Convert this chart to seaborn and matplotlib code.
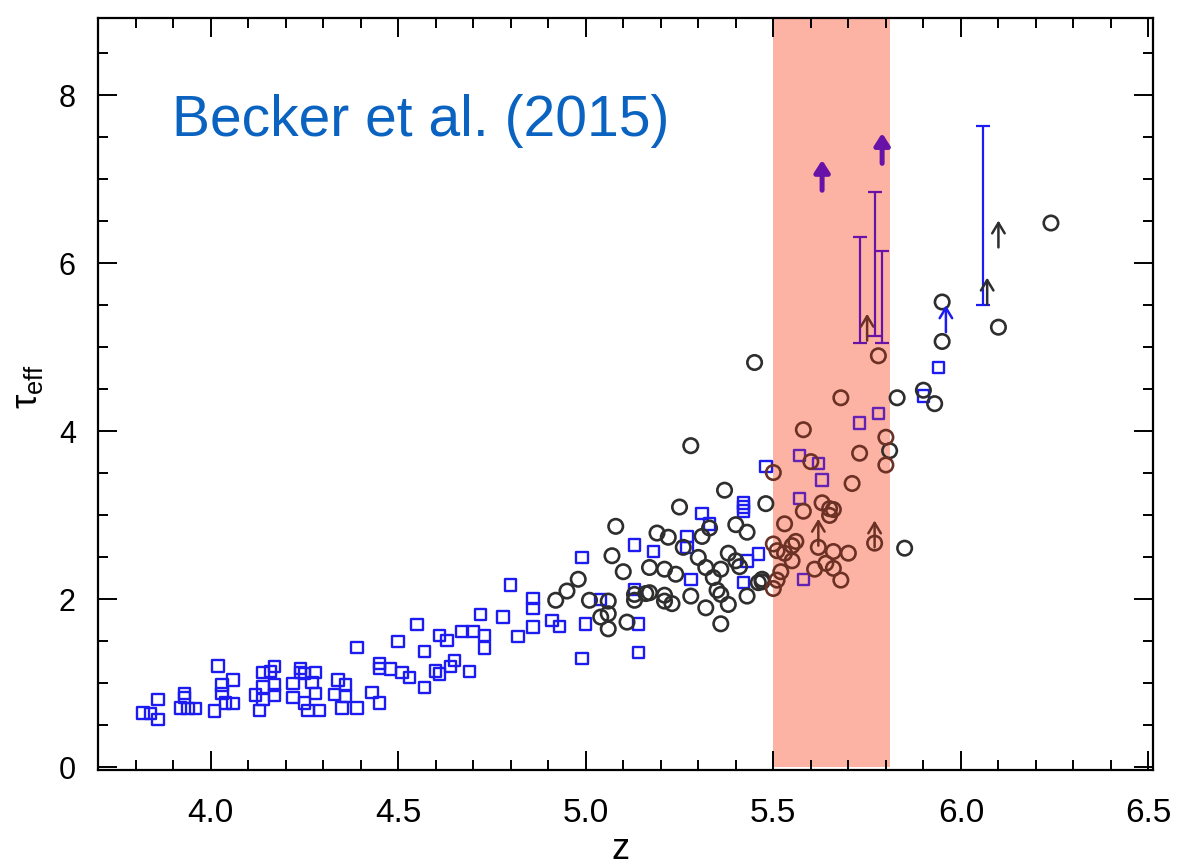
import numpy as np
import pandas as pd
import matplotlib
matplotlib.use("Agg")
import matplotlib.pyplot as plt
from matplotlib import font_manager
from matplotlib.ticker import MultipleLocator, FormatStrFormatter
import seaborn as sns

# ---- measurements: quasar sightlines (blue squares) ----
sq_z = [3.82, 3.84, 3.86, 3.86, 3.92, 3.93, 3.93, 3.94, 3.96, 4.01, 4.02, 4.03,
        4.03, 4.04, 4.06, 4.06, 4.12, 4.13, 4.14, 4.14, 4.14, 4.16, 4.17, 4.17,
        4.17, 4.22, 4.22, 4.24, 4.24, 4.25, 4.28, 4.27, 4.28, 4.25, 4.26, 4.29,
        4.34, 4.36, 4.33, 4.36, 4.35, 4.39, 4.39, 4.43, 4.45, 4.45, 4.45, 4.48,
        4.51, 4.53, 4.50, 4.55, 4.57, 4.57, 4.60, 4.61, 4.61, 4.63, 4.64, 4.65,
        4.67, 4.69, 4.70, 4.72, 4.73, 4.73, 4.78, 4.80, 4.82, 4.86, 4.86, 4.86,
        4.91, 4.93, 4.99, 4.99, 5.00, 5.04, 5.13, 5.13, 5.14, 5.14, 5.18, 5.27,
        5.27, 5.28, 5.31, 5.33, 5.42, 5.42, 5.42, 5.42, 5.43, 5.46, 5.48, 5.57,
        5.57, 5.58, 5.62, 5.63, 5.73, 5.78, 5.90, 5.94]
sq_tau = [0.65, 0.64, 0.81, 0.57, 0.71, 0.88, 0.83, 0.70, 0.70, 0.67, 1.21, 0.98,
          0.88, 0.77, 1.04, 0.76, 0.86, 0.68, 0.81, 0.96, 1.13, 1.14, 1.20, 0.98,
          0.86, 1.00, 0.83, 1.18, 1.13, 1.12, 1.13, 1.01, 0.88, 0.77, 0.68, 0.68,
          1.04, 0.98, 0.87, 0.85, 0.71, 0.71, 1.43, 0.89, 0.77, 1.24, 1.18, 1.17,
          1.13, 1.07, 1.50, 1.70, 1.38, 0.95, 1.15, 1.11, 1.57, 1.51, 1.20, 1.27,
          1.62, 1.14, 1.62, 1.82, 1.42, 1.57, 1.79, 2.17, 1.56, 2.01, 1.89, 1.67,
          1.75, 1.68, 2.50, 1.30, 1.71, 2.00, 2.12, 2.65, 1.71, 1.37, 2.57, 2.75,
          2.62, 2.24, 3.02, 2.90, 3.15, 3.10, 3.05, 2.20, 2.46, 2.54, 3.58, 3.71,
          3.20, 2.24, 3.62, 3.42, 4.10, 4.21, 4.42, 4.76]

# ---- measurements: Becker et al. sightlines (open circles) ----
circ_z = [4.92, 4.95, 4.98, 5.01, 5.04, 5.06, 5.06, 5.06, 5.07, 5.08, 5.10, 5.11,
          5.13, 5.13, 5.16, 5.17, 5.17, 5.19, 5.21, 5.21, 5.21, 5.22, 5.23, 5.24,
          5.25, 5.26, 5.28, 5.28, 5.30, 5.31, 5.32, 5.32, 5.33, 5.34, 5.35, 5.36,
          5.36, 5.36, 5.37, 5.38, 5.38, 5.40, 5.41, 5.40, 5.43, 5.43, 5.45, 5.46,
          5.47, 5.47, 5.48,
          5.50, 5.50, 5.53, 5.50, 5.51, 5.53, 5.55, 5.56, 5.55, 5.52, 5.51, 5.58,
          5.58, 5.60, 5.61, 5.62, 5.63, 5.64, 5.65, 5.66, 5.65, 5.66, 5.66, 5.68,
          5.68, 5.70, 5.71, 5.73, 5.77, 5.78, 5.80, 5.81, 5.80,
          5.83, 5.85, 5.90, 5.93, 5.95, 5.95, 6.10, 6.24]
circ_tau = [1.99, 2.10, 2.24, 1.99, 1.79, 1.98, 1.83, 1.65, 2.52, 2.87, 2.33, 1.73,
            1.99, 2.06, 2.07, 2.08, 2.38, 2.79, 2.36, 2.05, 1.98, 2.74, 1.95, 2.30,
            3.10, 2.62, 3.83, 2.04, 2.50, 2.75, 2.38, 1.90, 2.85, 2.26, 2.11, 2.06,
            1.71, 2.36, 3.30, 2.55, 1.94, 2.46, 2.39, 2.89, 2.80, 2.04, 4.82, 2.20,
            2.24, 2.21, 3.14,
            3.51, 2.66, 2.90, 2.13, 2.58, 2.55, 2.64, 2.69, 2.46, 2.33, 2.23, 4.02,
            3.05, 3.64, 2.36, 2.62, 3.15, 2.43, 3.08, 3.07, 3.00, 2.57, 2.37, 2.23,
            4.40, 2.55, 3.38, 3.74, 2.67, 4.90, 3.93, 3.77, 3.60,
            4.40, 2.61, 4.49, 4.33, 5.54, 5.07, 5.24, 6.48]

# lower limits on the circle sample (thin arrows)
circ_lim_z = [5.62, 5.75, 5.77, 6.07, 6.10]
circ_lim_tau = [2.64, 5.08, 2.62, 5.51, 6.19]

# lower limits on the square sample
sq_lim_z = [5.96]
sq_lim_tau = [5.18]
bold_lim_z = [5.63, 5.79]
bold_lim_tau = [6.87, 7.19]

# allowed ranges on the square sample (capped bars)
range_z = [5.73, 5.77, 5.79, 6.06]
range_lo = [5.05, 5.13, 5.05, 5.51]
range_hi = [6.31, 6.85, 6.15, 7.64]

# highlighted redshift window
band_lo, band_hi = 5.5, 5.81

x_ticks = [4.0, 4.5, 5.0, 5.5, 6.0, 6.5]
y_ticks = [0, 2, 4, 6, 8]

# colours
BLUE = "#1c1cf2"
PURPLE = "#6322b4"
PURPLE_DARK = "#6812a8"
GREY = "#2e2e2e"
BROWN = "#6c3125"
BAND = "#fdb3a3"
TITLE = "#0b63c1"

sns.set_theme(style="ticks")
plt.rcParams["font.family"] = ["Liberation Sans", "DejaVu Sans"]
plt.rcParams["mathtext.fontset"] = "custom"
plt.rcParams["mathtext.rm"] = "Liberation Sans"
plt.rcParams["mathtext.it"] = "Liberation Sans"
plt.rcParams["text.color"] = "black"
plt.rcParams["axes.labelcolor"] = "black"
plt.rcParams["xtick.color"] = "black"
plt.rcParams["ytick.color"] = "black"

available = {f.name for f in font_manager.fontManager.ttflist}
narrow = "Liberation Sans Narrow" if "Liberation Sans Narrow" in available else "Liberation Sans"

fig = plt.figure(figsize=(11.95, 8.66), dpi=100)
ax = fig.add_axes([98 / 1195, 1 - 770 / 866, (1153 - 98) / 1195, (770 - 18) / 866])
ax.set_xlim(3.70, 6.512)
ax.set_ylim(-0.03, 8.92)

# highlighted window
ax.fill_between([band_lo, band_hi], 0, 8.92, color=BAND, lw=0, zorder=0)


def in_band(z):
    z = np.asarray(z)
    return (z >= band_lo) & (z < band_hi)


sq = pd.DataFrame({"z": sq_z, "tau": sq_tau})
ci = pd.DataFrame({"z": circ_z, "tau": circ_tau})
sq_in = in_band(sq["z"])
ci_in = in_band(ci["z"])

sq_kw = dict(marker="s", s=68, facecolor="none", linewidth=1.7, zorder=3, legend=False, ax=ax)
ci_kw = dict(marker="o", s=108, facecolor="none", linewidth=1.9, zorder=3, legend=False, ax=ax)

sns.scatterplot(data=sq[~sq_in], x="z", y="tau", edgecolor=BLUE, **sq_kw)
sns.scatterplot(data=sq[sq_in], x="z", y="tau", edgecolor=PURPLE, **sq_kw)
sns.scatterplot(data=ci[~ci_in], x="z", y="tau", edgecolor=GREY, **ci_kw)
sns.scatterplot(data=ci[ci_in], x="z", y="tau", edgecolor=BROWN, **ci_kw)

# capped ranges
for z, lo, hi in zip(range_z, range_lo, range_hi):
    col = PURPLE_DARK if in_band([z])[0] else BLUE
    ax.errorbar([z], [(lo + hi) / 2], yerr=[[(hi - lo) / 2], [(hi - lo) / 2]],
                fmt="none", ecolor=col, elinewidth=1.6, capsize=5.2, capthick=1.6,
                zorder=2)

THIN_LEN = 0.32
BOLD_LEN = 0.36


def limit_arrow(z, tau, length, color, style, lw, scale):
    ax.annotate("", xy=(z, tau + length), xytext=(z, tau),
                arrowprops=dict(arrowstyle=style, color=color, lw=lw,
                                mutation_scale=scale, shrinkA=0, shrinkB=0),
                zorder=4)


for z, t in zip(circ_lim_z, circ_lim_tau):
    col = BROWN if in_band([z])[0] else GREY
    limit_arrow(z, t, THIN_LEN, col, "->,head_length=0.75,head_width=0.45", 1.8, 10)
for z, t in zip(sq_lim_z, sq_lim_tau):
    col = PURPLE if in_band([z])[0] else BLUE
    limit_arrow(z, t, THIN_LEN, col, "->,head_length=0.75,head_width=0.45", 1.8, 10)
for z, t in zip(bold_lim_z, bold_lim_tau):
    col = PURPLE_DARK if in_band([z])[0] else BLUE
    limit_arrow(z, t, BOLD_LEN, col, "-|>,head_length=0.7,head_width=0.45", 3.6, 10)

# axes furniture
ax.xaxis.set_major_locator(plt.FixedLocator(x_ticks))
ax.xaxis.set_minor_locator(MultipleLocator(0.1))
ax.xaxis.set_major_formatter(FormatStrFormatter("%.1f"))
ax.yaxis.set_major_locator(plt.FixedLocator(y_ticks))
ax.yaxis.set_minor_locator(MultipleLocator(0.5))
ax.tick_params(which="both", direction="in", top=True, right=True, width=1.4,
               color="black", labelcolor="black")
ax.tick_params(which="major", length=14)
ax.tick_params(which="minor", length=7)
ax.tick_params(axis="x", which="major", pad=20, labelsize=24)
ax.tick_params(axis="y", which="major", pad=16, labelsize=22)
for lab in ax.get_xticklabels():
    lab.set_fontfamily(narrow)
for sp in ax.spines.values():
    sp.set_linewidth(1.6)
    sp.set_color("black")

ax.set_xlabel("z", fontsize=26, color="black")
ax.xaxis.set_label_coords(0.495, -0.082)
ax.set_ylabel("τ$_{\\rm eff}$", fontsize=26, color="black")
ax.yaxis.set_label_coords(-0.050, 0.51)

ax.text(0.070, 0.843, "Becker et al. (2015)", transform=ax.transAxes,
        ha="left", va="baseline", fontsize=41, color=TITLE, zorder=5)

fig.savefig("out.png", dpi=100)
